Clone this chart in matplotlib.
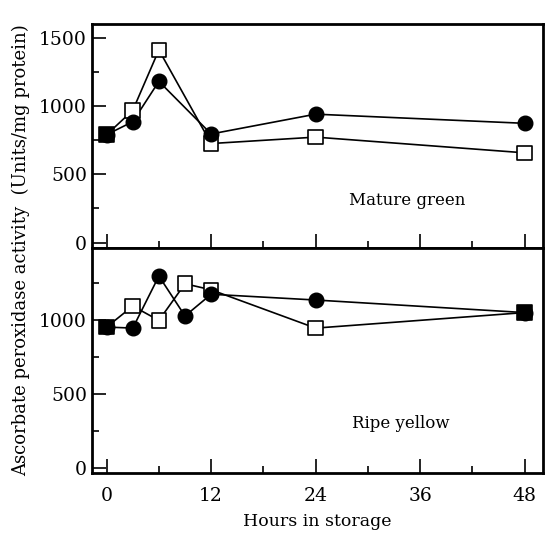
import matplotlib
matplotlib.use('Agg')
from matplotlib import pyplot as plt
from matplotlib.ticker import MultipleLocator

plt.rcParams['font.family'] = 'DejaVu Serif'

# Mature green
horas_verde = [0, 3, 6, 12, 24, 48]
circulo_verde = [790, 885, 1180, 795, 940, 873]
cuadro_verde = [790, 968, 1410, 725, 772, 657]

# Ripe yellow
horas_amarillo = [0, 3, 6, 9, 12, 24, 48]
circulo_amarillo = [955, 948, 1300, 1030, 1177, 1138, 1053]
cuadro_amarillo = [955, 1097, 1000, 1248, 1207, 948, 1053]

paneles = ['Mature green', 'Ripe yellow']

fig = plt.figure(figsize=(5.5, 5.35), dpi=100)
ax1 = fig.add_axes([0.167, 0.5364, 0.82, 0.4187])
ax2 = fig.add_axes([0.167, 0.1159, 0.82, 0.4206], sharex=ax1)


def dibuja(ax, horas, circ, cuad, titulo, ylim, pos):
    ax.plot(horas, cuad, color='black', lw=1.2, zorder=2)
    ax.plot(horas, circ, color='black', lw=1.2, zorder=2)
    caras = ['black' if c == q else 'white' for c, q in zip(circ, cuad)]
    ax.scatter(horas, cuad, marker='s', s=110, facecolors=caras,
               edgecolors='black', linewidths=1.2, zorder=3)
    ax.plot(horas, circ, 'o', color='black', ms=10.5, zorder=4)
    ax.set_xlim(-1.7, 50.1)
    ax.set_ylim(*ylim)
    ax.xaxis.set_major_locator(MultipleLocator(12))
    ax.xaxis.set_minor_locator(MultipleLocator(6))
    ax.yaxis.set_major_locator(MultipleLocator(500))
    ax.yaxis.set_minor_locator(MultipleLocator(250))
    ax.tick_params(which='both', direction='in', top=False, right=False,
                   labelsize=13.5, width=1.2)
    ax.tick_params(axis='x', which='major', pad=10)
    ax.tick_params(which='major', length=10)
    ax.tick_params(which='minor', length=5)
    for s in ax.spines.values():
        s.set_linewidth(2)
    ax.text(pos[0], pos[1], titulo,
            transform=ax.transAxes, ha='center', va='center', fontsize=12)


dibuja(ax1, horas_verde, circulo_verde, cuadro_verde, paneles[0],
       (-40, 1600), (0.70, 0.214))
dibuja(ax2, horas_amarillo, circulo_amarillo, cuadro_amarillo, paneles[1],
       (-32, 1490), (0.685, 0.222))
plt.setp(ax1.get_xticklabels(), visible=False)
ax2.set_xlabel('Hours in storage', fontsize=12.5, labelpad=6)

fig.text(0.038, 0.532, 'Ascorbate peroxidase activity  (Units/mg protein)',
         rotation=90, ha='center', va='center', fontsize=13)

fig.savefig('out.png', dpi=100)
